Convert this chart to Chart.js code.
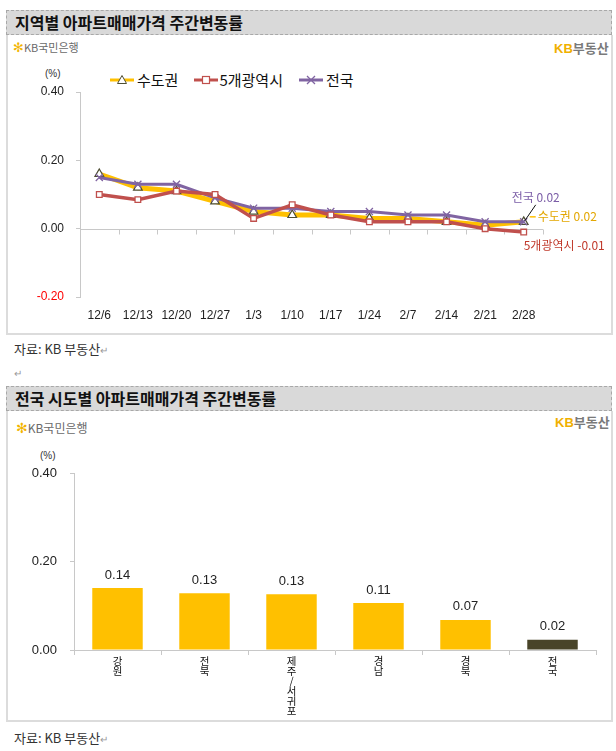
<!DOCTYPE html>
<html><head><meta charset="utf-8">
<script src="https://cdn.jsdelivr.net/npm/chart.js@4"></script>
<style>
body{margin:0;background:#fff;width:616px;height:751px;position:relative;overflow:hidden;font-family:'Noto Sans CJK KR',sans-serif;color:#222;}
.abs{position:absolute;}
.panel{position:absolute;left:6px;width:603px;border:2px solid #dcdcdc;border-top:none;background:#fff;}
.hdr{position:absolute;left:-2px;width:606px;height:25px;background:#d9d9d9;border:1px dashed #a8a8a8;box-sizing:border-box;font-weight:bold;font-size:16px;line-height:23px;padding-left:8px;color:#111;white-space:nowrap;}
.kb1{position:absolute;font-size:11px;color:#6a6a6a;white-space:nowrap;line-height:12px;}
.kb1 .star{color:#f2b400;font-family:'DejaVu Sans';font-weight:bold;font-size:13px;}
.kb2{position:absolute;font-size:13px;font-weight:bold;white-space:nowrap;line-height:14px;}
.kb2 .k{color:#f0b000;font-family:'Liberation Sans';}
.kb2 .b{color:#7a7a7a;}
.src{position:absolute;left:14px;font-size:13px;color:#333;white-space:nowrap;}
.src .p{color:#999;font-size:10px;}
.pct{position:absolute;font-size:10px;color:#333;font-family:'Liberation Sans',sans-serif;}
.leg{position:absolute;top:68px;left:110px;font-size:15px;white-space:nowrap;height:20px;line-height:20px;color:#111;}
.leg span{display:inline-block;vertical-align:middle;}
.leg svg{vertical-align:middle;}
</style></head>
<body>
<div class="hdr" style="left:6px;top:10px;">지역별 아파트매매가격 주간변동률</div>
<div class="panel" style="top:35px;height:298px;"></div>
<div class="kb1" style="left:13px;top:41px;"><span class="star">✻</span>KB국민은행</div>
<div class="kb2" style="left:554px;top:41px;"><span class="k">KB</span><span class="b">부동산</span></div>
<div class="pct" style="left:45px;top:68px;">(%)</div>
<div class="leg">
<svg width="24" height="12"><line x1="0" y1="6" x2="24" y2="6" stroke="#ffc000" stroke-width="3"/><polygon points="12,1.5 16.5,9.5 7.5,9.5" fill="#fff" stroke="#4d4d33" stroke-width="1"/></svg><span style="margin:0 16px 0 3px">수도권</span><svg width="24" height="12"><line x1="0" y1="6" x2="24" y2="6" stroke="#c0504d" stroke-width="3"/><rect x="8.5" y="2.5" width="7" height="7" fill="#fff" stroke="#c0504d" stroke-width="1.2"/></svg><span style="margin:0 16px 0 1px">5개광역시</span><svg width="24" height="12"><line x1="0" y1="6" x2="24" y2="6" stroke="#8064a2" stroke-width="3"/><path d="M8,2 L16,10 M16,2 L8,10" stroke="#8064a2" stroke-width="1.3"/></svg><span style="margin-left:3px">전국</span>
</div>
<canvas id="c1" class="abs" style="left:8px;top:38px;" width="602" height="295"></canvas>
<div class="src" style="top:339px;">자료: KB 부동산<span class="p">↵</span></div>
<div class="src" style="top:362px;"><span class="p">↵</span></div>

<div class="hdr" style="left:6px;top:386px;">전국 시도별 아파트매매가격 주간변동률</div>
<div class="panel" style="top:411px;height:309px;"></div>
<div class="kb1" style="left:16px;top:422px;font-size:12px;"><span class="star" style="font-size:14px">✻</span>KB국민은행</div>
<div class="kb2" style="left:555px;top:415px;"><span class="k">KB</span><span class="b">부동산</span></div>
<div class="pct" style="left:40px;top:450px;">(%)</div>
<canvas id="c2" class="abs" style="left:8px;top:412px;" width="602" height="308"></canvas>
<div class="src" style="top:728px;">자료: KB 부동산<span class="p">↵</span></div>

<script>
const weeks = ['12/6','12/13','12/20','12/27','1/3','1/10','1/17','1/24','2/7','2/14','2/21','2/28'];
const sudogwon = [0.16, 0.12, 0.11, 0.08, 0.05, 0.04, 0.04, 0.03, 0.03, 0.02, 0.01, 0.02];
const metro5 = [0.10, 0.085, 0.11, 0.10, 0.03, 0.07, 0.04, 0.02, 0.02, 0.02, 0.00, -0.01];
const national = [0.15, 0.13, 0.13, 0.09, 0.06, 0.06, 0.05, 0.05, 0.04, 0.04, 0.02, 0.02];
const lineTicks = [-0.2, 0, 0.2, 0.4];

const regions = [['강','원'], ['전','북'], ['제','주','/','서','귀','포'], ['경','남'], ['경','북'], ['전','국']];
const regionValues = [0.14, 0.128, 0.126, 0.106, 0.068, 0.023];
const barTicks = [0, 0.2, 0.4];

Chart.defaults.font.family = "'Liberation Sans','Noto Sans CJK KR',sans-serif";
Chart.defaults.color = '#222';
Chart.defaults.animation = false;

const zeroLine = {
  id: 'zeroLine',
  beforeDatasetsDraw(chart) {
    const {ctx, chartArea, scales: {x, y}} = chart;
    const y0 = Math.round(y.getPixelForValue(0)) + 0.5;
    ctx.save();
    ctx.strokeStyle = '#c8c8c8';
    ctx.lineWidth = 1;
    ctx.beginPath();
    ctx.moveTo(chartArea.left, y0);
    ctx.lineTo(chartArea.right, y0);
    const n = x.ticks.length;
    const step = (chartArea.right - chartArea.left) / n;
    for (let i = 0; i <= n; i++) {
      const px = Math.round(chartArea.left + i * step) + 0.5;
      ctx.moveTo(px, y0);
      ctx.lineTo(px, y0 + 5);
    }
    ctx.stroke();
    ctx.restore();
  }
};

const endLabels = {
  id: 'endLabels',
  afterDatasetsDraw(chart) {
    const {ctx} = chart;
    ctx.save();
    ctx.font = "12px 'Noto Sans CJK KR', sans-serif";
    ctx.textBaseline = 'middle';
    const cfg = [
      {ds: 2, name: '전국', color: '#7a5ca6'},
      {ds: 0, name: '수도권', color: '#e3a600'},
      {ds: 1, name: '5개광역시', color: '#c0392b'}
    ];
    cfg.forEach(c => {
      const meta = chart.getDatasetMeta(c.ds);
      const pt = meta.data[meta.data.length - 1];
      const v = chart.data.datasets[c.ds].data[meta.data.length - 1];
      const txt = c.name + ' ' + v.toFixed(2);
      ctx.fillStyle = c.color;
      if (c.ds === 2) {
        ctx.textAlign = 'center';
        ctx.fillText(txt, pt.x + 12, pt.y - 24);
        ctx.strokeStyle = '#111';
        ctx.lineWidth = 1;
        ctx.beginPath();
        ctx.moveTo(pt.x + 12, pt.y - 17);
        ctx.lineTo(pt.x + 1, pt.y - 1);
        ctx.stroke();
      } else if (c.ds === 0) {
        ctx.textAlign = 'left';
        ctx.strokeStyle = '#ffc000';
        ctx.lineWidth = 1.5;
        ctx.beginPath();
        ctx.moveTo(pt.x + 6, pt.y - 5);
        ctx.lineTo(pt.x + 12, pt.y - 5);
        ctx.stroke();
        ctx.fillText(txt, pt.x + 14, pt.y - 5);
      } else {
        ctx.textAlign = 'left';
        ctx.fillText(txt, pt.x, pt.y + 13);
      }
    });
    ctx.restore();
  }
};

new Chart(document.getElementById('c1'), {
  type: 'line',
  data: {
    labels: weeks,
    datasets: [
      {label: '수도권', data: sudogwon, borderColor: '#ffc000', borderWidth: 5, pointStyle: 'triangle', pointRadius: 5, pointBackgroundColor: '#fff', pointBorderColor: '#4d4d33', pointBorderWidth: 1.2, tension: 0, order: 3},
      {label: '5개광역시', data: metro5, borderColor: '#c0504d', borderWidth: 3.5, pointStyle: 'rect', pointRadius: 4, pointBackgroundColor: '#fff', pointBorderColor: '#c0504d', pointBorderWidth: 1.3, tension: 0, order: 1},
      {label: '전국', data: national, borderColor: '#8064a2', borderWidth: 3, pointStyle: 'crossRot', pointRadius: 5, pointBorderColor: '#8064a2', pointBorderWidth: 1.3, tension: 0, order: 2}
    ]
  },
  options: {
    responsive: false,
    layout: {padding: {top: 54, right: 67, left: 0, bottom: 0}},
    plugins: {legend: {display: false}, tooltip: {enabled: false}},
    scales: {
      x: {
        offset: true,
        grid: {display: false, drawTicks: false},
        border: {display: false},
        ticks: {font: {size: 12}, color: '#222', padding: 11, maxRotation: 0, autoSkip: false},
        afterFit: s => { s.height = 36; }
      },
      y: {
        min: -0.2, max: 0.4,
        afterBuildTicks: s => { s.ticks = lineTicks.map(v => ({value: v})); },
        grid: {display: true, drawOnChartArea: false, drawTicks: true, tickLength: 4, color: '#c8c8c8'},
        border: {display: true, color: '#c8c8c8'},
        ticks: {font: {size: 12}, padding: 12, color: c => c.tick.value < 0 ? '#ff0000' : '#222', callback: v => v.toFixed(2)},
        afterFit: s => { s.width = 72; }
      }
    }
  },
  plugins: [zeroLine, endLabels]
});

const barLabels = {
  id: 'barLabels',
  afterDatasetsDraw(chart) {
    const {ctx} = chart;
    const meta = chart.getDatasetMeta(0);
    ctx.save();
    ctx.font = "13px 'Liberation Sans', sans-serif";
    ctx.fillStyle = '#222';
    ctx.textAlign = 'center';
    ctx.textBaseline = 'middle';
    meta.data.forEach((bar, i) => {
      ctx.fillText(chart.data.datasets[0].data[i].toFixed(2), bar.x, bar.y - 13);
    });
    ctx.restore();
  }
};

new Chart(document.getElementById('c2'), {
  type: 'bar',
  data: {
    labels: regions,
    datasets: [{
      data: regionValues,
      backgroundColor: regionValues.map((v, i) => i === regionValues.length - 1 ? '#494429' : '#ffc000'),
      categoryPercentage: 1,
      barPercentage: 0.58
    }]
  },
  options: {
    responsive: false,
    layout: {padding: {top: 61, right: 14, left: 0, bottom: 0}},
    plugins: {legend: {display: false}, tooltip: {enabled: false}},
    scales: {
      x: {
        grid: {display: true, drawOnChartArea: false, drawTicks: true, tickLength: 5, color: '#c8c8c8', offset: true},
        border: {display: true, color: '#c8c8c8'},
        ticks: {font: {size: 10.5, lineHeight: 0.95, family: "'Noto Sans CJK KR', sans-serif"}, color: '#111', padding: 1, maxRotation: 0, autoSkip: false},
        afterFit: s => { s.height = 70; }
      },
      y: {
        min: 0, max: 0.4,
        afterBuildTicks: s => { s.ticks = barTicks.map(v => ({value: v})); },
        grid: {display: true, drawOnChartArea: false, drawTicks: true, tickLength: 4, color: '#c8c8c8'},
        border: {display: true, color: '#c8c8c8'},
        ticks: {font: {size: 13}, padding: 13, color: '#222', callback: v => v.toFixed(2)},
        afterFit: s => { s.width = 66; }
      }
    }
  },
  plugins: [barLabels]
});
</script>
</body></html>
